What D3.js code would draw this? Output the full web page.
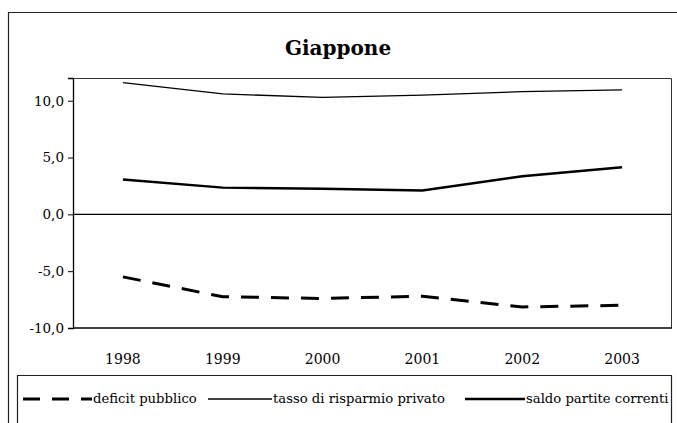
<!DOCTYPE html>
<html>
<head>
<meta charset="utf-8">
<script src="https://cdn.jsdelivr.net/npm/d3@7"></script>
<style>
  body { margin: 0; background: #fff; }
</style>
</head>
<body>
<div id="chart"></div>
<script>
// Japan: public deficit, private saving rate, current account (% GDP)
const years = ['1998', '1999', '2000', '2001', '2002', '2003'];
const deficitPubblico = [-5.5, -7.25, -7.4, -7.2, -8.15, -8.0];
const tassoRisparmio = [11.6, 10.6, 10.3, 10.5, 10.8, 10.95];
const saldoPartite = [3.07, 2.35, 2.25, 2.1, 3.35, 4.15];
const yTicks = [-10, -5, 0, 5, 10];

const series = [
  { name: 'deficit pubblico', values: deficitPubblico, width: 3, dash: '18,12' },
  { name: 'tasso di risparmio privato', values: tassoRisparmio, width: 1.3, dash: null },
  { name: 'saldo partite correnti', values: saldoPartite, width: 2.4, dash: null }
];

const W = 677, H = 423;
const margin = { top: 78, right: 5, bottom: 95, left: 73 };
const innerW = W - margin.left - margin.right;
const innerH = H - margin.top - margin.bottom;
const SERIF = "DejaVu Serif";

const svg = d3.select('#chart').append('svg')
  .attr('width', W).attr('height', H)
  .style('display', 'block');

// outer frame (left + top edge only visible)
svg.append('path')
  .attr('d', `M8.5,${H} V12.5 H${W}`)
  .attr('fill', 'none').attr('stroke', '#222').attr('stroke-width', 1.2);

svg.append('text')
  .attr('x', 338).attr('y', 55)
  .attr('text-anchor', 'middle')
  .style('font-family', SERIF)
  .attr('font-size', 20).attr('font-weight', 'bold')
  .text('Giappone');

const x = d3.scaleBand().domain(years).range([0, innerW]);
const y = d3.scaleLinear().domain([-10, 12]).range([innerH, 0]);

const g = svg.append('g').attr('transform', `translate(${margin.left},${margin.top})`);

// plot frame: top/right thin
g.append('path')
  .attr('d', `M0,0.5 H${innerW - 0.5} V${innerH}`)
  .attr('fill', 'none').attr('stroke', '#333').attr('stroke-width', 1);

// y axis
const yAxis = g.append('g')
  .call(d3.axisLeft(y).tickValues(yTicks).tickSize(5).tickPadding(4)
    .tickFormat(d => d3.format('.1f')(d).replace('.', ',').replace('\u2212', '-')));
yAxis.select('.domain').attr('stroke', '#000').attr('stroke-width', 1.3);
yAxis.selectAll('.tick line').attr('stroke', '#000');
yAxis.selectAll('text').attr('font-size', 13.5).attr('fill', '#000')
  .style('font-family', SERIF);

// bottom line
g.append('line')
  .attr('x1', 0).attr('x2', innerW)
  .attr('y1', innerH).attr('y2', innerH)
  .attr('stroke', '#000').attr('stroke-width', 1.4);

// zero line
g.append('line')
  .attr('x1', 0).attr('x2', innerW)
  .attr('y1', y(0)).attr('y2', y(0))
  .attr('stroke', '#000').attr('stroke-width', 1.2);

// x labels
g.append('g').selectAll('text')
  .data(years)
  .join('text')
  .attr('x', d => x(d) + x.bandwidth() / 2)
  .attr('y', innerH + 36)
  .attr('text-anchor', 'middle')
  .style('font-family', SERIF)
  .attr('font-size', 14)
  .text(d => d);

// lines
const line = d3.line()
  .x((d, i) => x(years[i]) + x.bandwidth() / 2)
  .y(d => y(d));

g.selectAll('.series')
  .data(series)
  .join('path')
  .attr('class', 'series')
  .attr('d', d => line(d.values))
  .attr('fill', 'none')
  .attr('stroke', '#000')
  .attr('stroke-width', d => d.width)
  .attr('stroke-dasharray', d => d.dash);

// legend box
const legend = svg.append('g');
legend.append('path')
  .attr('d', `M17.5,${H} V375.5 H671.5 V${H}`)
  .attr('fill', 'none').attr('stroke', '#222').attr('stroke-width', 1.2);

const legendPos = [
  { x1: 23, x2: 92 },
  { x1: 208, x2: 272 },
  { x1: 465, x2: 525 }
];
series.forEach((s, i) => {
  const p = legendPos[i];
  legend.append('line')
    .attr('x1', p.x1).attr('x2', p.x2)
    .attr('y1', 399).attr('y2', 399)
    .attr('stroke', '#000')
    .attr('stroke-width', s.width)
    .attr('stroke-dasharray', s.dash ? '17,12' : null);
  legend.append('text')
    .attr('x', p.x2 + 1).attr('y', 403)
    .style('font-family', SERIF)
    .attr('font-size', 13.2)
    .text(s.name);
});
</script>
</body>
</html>
